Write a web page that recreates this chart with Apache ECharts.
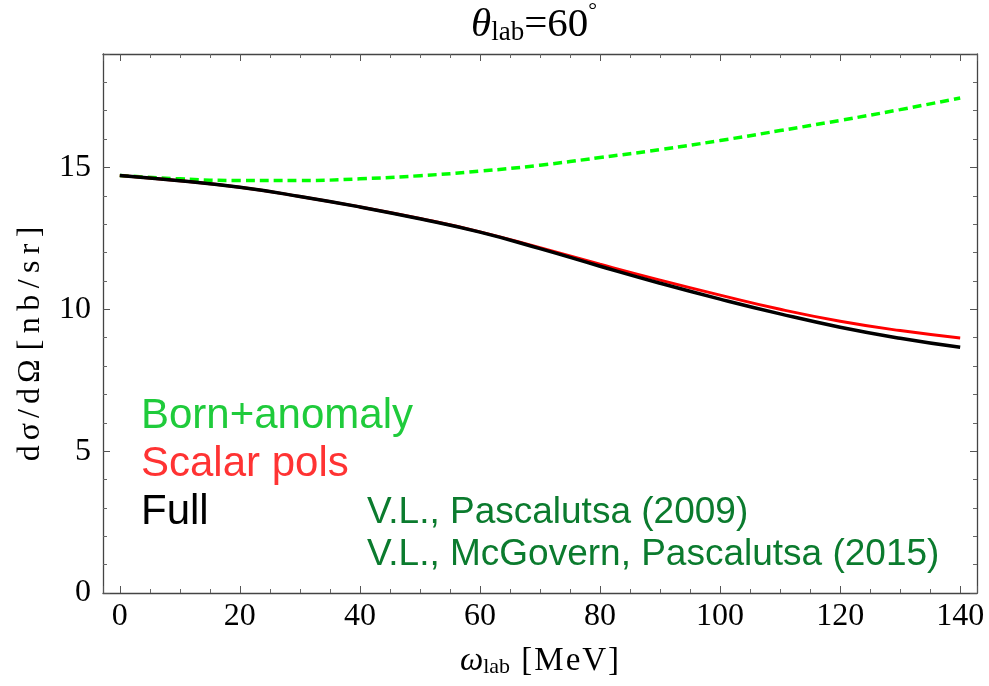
<!DOCTYPE html>
<html>
<head>
<meta charset="utf-8">
<script src="https://cdn.jsdelivr.net/npm/echarts@6/dist/echarts.min.js"></script>
<style>
html, body { margin: 0; padding: 0; background: #fff; }
#chart { width: 989px; height: 686px; }
</style>
</head>
<body>
<div id="chart"></div>
<script>
// photon energy in the lab frame [MeV]
var omega = [0, 10, 20, 30, 40, 50, 60, 70, 80, 90, 100, 110, 120, 130, 140];
// dsigma/dOmega [nb/sr]
var bornAnomaly = [14.72, 14.60, 14.54, 14.54, 14.60, 14.71, 14.87, 15.08, 15.35, 15.63, 15.95, 16.30, 16.66, 17.04, 17.45];
var scalarPols = [14.72, 14.53, 14.30, 13.98, 13.61, 13.20, 12.73, 12.17, 11.59, 11.03, 10.50, 10.00, 9.58, 9.25, 8.99];
var full = [14.72, 14.53, 14.30, 13.98, 13.61, 13.19, 12.72, 12.14, 11.52, 10.92, 10.36, 9.84, 9.37, 8.98, 8.66];

var xTickLabels = [0, 20, 40, 60, 80, 100, 120, 140];
var yTickLabels = [0, 5, 10, 15];

var serif = '"Liberation Serif", "Times New Roman", serif';
var sans = '"Liberation Sans", Arial, sans-serif';

function pairs(ys) {
    var out = [];
    for (var i = 0; i < omega.length; i++) {
        out.push([omega[i], ys[i]]);
    }
    return out;
}

// spaced-out glyphs like the mathematica frame label
function spaced(str, style) {
    var s = '';
    for (var i = 0; i < str.length; i++) {
        s += str[i] === ' ' ? ' ' : '{' + style + '|' + str[i] + '}';
    }
    return s;
}

var frameColor = '#444';
function frameAxis(extra) {
    var base = {
        type: 'value',
        axisLine: { show: true, onZero: false, lineStyle: { color: frameColor, width: 1.3 } },
        axisTick: { show: true, inside: true, length: 7, lineStyle: { color: '#555', width: 1 } },
        minorTick: { show: true, length: 4, lineStyle: { color: '#666', width: 1 } },
        splitLine: { show: false },
        axisLabel: { show: false }
    };
    for (var k in extra) base[k] = extra[k];
    return base;
}

var chart = echarts.init(document.getElementById('chart'));
chart.setOption({
    animation: false,
    backgroundColor: '#fff',
    title: {
        text: '{it|θ}{sub|lab}{n|=60}{sup|°}',
        left: 471,
        top: 0,
        padding: 0,
        textStyle: {
            fontWeight: 'normal',
            rich: {
                it: { fontFamily: serif, fontStyle: 'italic', fontWeight: 'normal', fontSize: 41, lineHeight: 46, verticalAlign: 'bottom', color: '#000' },
                sub: { fontFamily: serif, fontWeight: 'normal', fontSize: 27, lineHeight: 18, verticalAlign: 'bottom', color: '#000' },
                n: { fontFamily: serif, fontWeight: 'normal', fontSize: 41, lineHeight: 46, verticalAlign: 'bottom', color: '#000' },
                sup: { fontFamily: serif, fontWeight: 'normal', fontSize: 22, lineHeight: 22, verticalAlign: 'top', color: '#000' }
            }
        }
    },
    grid: { left: 103, right: 12, top: 54, bottom: 93 },
    xAxis: [
        frameAxis({
            position: 'bottom',
            min: -2.8, max: 142.8, splitNumber: 7,
            minorTick: { show: true, splitNumber: 4, length: 4, lineStyle: { color: '#666', width: 1 } },
            axisLabel: {
                show: true, margin: 8, color: '#000', fontFamily: serif, fontSize: 32,
                formatter: function (v) { return xTickLabels.indexOf(v) >= 0 ? String(v) : ''; }
            },
            name: '{it|ω}{sub|lab}{n| }' + spaced('[MeV]', 'n'),
            nameLocation: 'middle',
            nameGap: 45,
            nameTextStyle: {
                rich: {
                    it: { fontFamily: serif, fontStyle: 'italic', fontSize: 33, lineHeight: 40, verticalAlign: 'bottom', color: '#000' },
                    sub: { fontFamily: serif, fontSize: 22, lineHeight: 14, verticalAlign: 'bottom', color: '#000' },
                    n: { fontFamily: serif, fontSize: 33, lineHeight: 40, verticalAlign: 'bottom', color: '#000', padding: [0, 1] }
                }
            }
        }),
        frameAxis({
            position: 'top',
            min: -2.8, max: 142.8, splitNumber: 7,
            minorTick: { show: true, splitNumber: 4, length: 4, lineStyle: { color: '#666', width: 1 } }
        })
    ],
    yAxis: [
        frameAxis({
            position: 'left',
            min: 0, max: 19, interval: 5,
            minorTick: { show: true, splitNumber: 5, length: 4, lineStyle: { color: '#666', width: 1 } },
            axisLabel: {
                show: true, margin: 12, color: '#000', fontFamily: serif, fontSize: 32,
                formatter: function (v) { return yTickLabels.indexOf(v) >= 0 ? String(v) : ''; }
            },
            name: spaced('dσ/dΩ', 'a') + ' ' + spaced('[nb/sr]', 'b'),
            nameLocation: 'middle',
            nameRotate: 90,
            nameGap: 56,
            nameTextStyle: {
                padding: [0, 40, 0, 0],
                rich: {
                    a: { fontFamily: serif, fontSize: 32, color: '#000', padding: [0, 2.5] },
                    b: { fontFamily: serif, fontSize: 32, color: '#000', padding: [0, 3.2] }
                }
            }
        }),
        frameAxis({
            position: 'right',
            min: 0, max: 19, interval: 5,
            minorTick: { show: true, splitNumber: 5, length: 4, lineStyle: { color: '#666', width: 1 } }
        })
    ],
    series: [
        {
            name: 'Born+anomaly', type: 'line', xAxisIndex: 0, yAxisIndex: 0,
            data: pairs(bornAnomaly), smooth: true, showSymbol: false,
            lineStyle: { color: '#00ff00', width: 3.5, type: [9, 5] }
        },
        {
            name: 'Scalar pols', type: 'line', xAxisIndex: 0, yAxisIndex: 0,
            data: pairs(scalarPols), smooth: true, showSymbol: false,
            lineStyle: { color: '#ff0000', width: 3 }
        },
        {
            name: 'Full', type: 'line', xAxisIndex: 0, yAxisIndex: 0,
            data: pairs(full), smooth: true, showSymbol: false,
            lineStyle: { color: '#000000', width: 3.5 }
        }
    ],
    graphic: [
        { type: 'text', left: 141, top: 395, style: { text: 'Born+anomaly', font: '42px ' + sans, fill: '#1fcb3b' } },
        { type: 'text', left: 141, top: 443, style: { text: 'Scalar pols', font: '42px ' + sans, fill: '#ff3333' } },
        { type: 'text', left: 141, top: 491, style: { text: 'Full', font: '42px ' + sans, fill: '#000' } },
        { type: 'text', left: 367, top: 494, style: { text: 'V.L., Pascalutsa (2009)', font: '37px ' + sans, fill: '#0b7b2e' } },
        { type: 'text', left: 367, top: 536, style: { text: 'V.L., McGovern, Pascalutsa (2015)', font: '37px ' + sans, fill: '#0b7b2e' } }
    ]
});
</script>
</body>
</html>
